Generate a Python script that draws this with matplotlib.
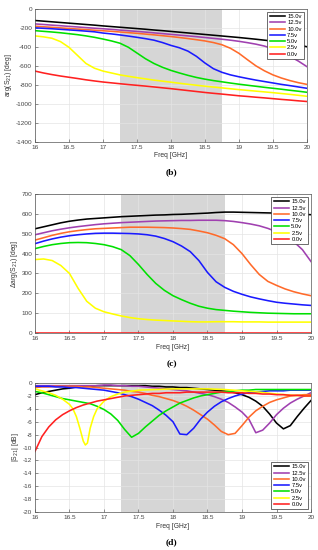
import matplotlib
matplotlib.use("Agg")
import matplotlib.pyplot as plt
import numpy as np

plt.rcParams['font.family'] = ['Liberation Sans', 'DejaVu Sans']
plt.rcParams['axes.unicode_minus'] = False

labels = ['15.0v', '12.5v', '10.0v', '7.5v', '5.0v', '2.5v', '0.0v']
colors = ['#000000', '#a040b0', '#ff6a2a', '#1a1aff', '#00e000', '#ffff00', '#ff2020']

# (b) arg(S21), grid 16..20 step 0.125
freq_bc = np.arange(16, 20.001, 0.125)
b_15 = [-123, -130, -137, -144, -151, -158, -165, -172, -180, -187, -194, -201, -208, -215, -223, -230, -238,
        -246, -254, -262, -270, -278, -286, -294, -302, -311, -320, -330, -340, -352, -365, -380, -399]
b_12 = [-159, -165, -172, -178, -185, -191, -198, -204, -210, -217, -224, -231, -238, -245, -253, -261, -269,
        -277, -285, -293, -302, -311, -320, -330, -342, -356, -372, -392, -420, -455, -500, -550, -608]
b_10 = [-183, -189, -195, -201, -207, -213, -219, -225, -231, -237, -244, -251, -258, -266, -274, -283, -292,
        -302, -313, -325, -338, -355, -378, -415, -468, -535, -600, -652, -695, -728, -755, -777, -795]
b_7 = [-200, -205, -210, -216, -222, -228, -235, -242, -255, -264, -275, -287, -300, -314, -330, -355, -385,
       -410, -445, -500, -570, -630, -668, -695, -715, -733, -750, -765, -780, -795, -808, -822, -836]
b_5 = [-230, -237, -244, -252, -262, -272, -285, -300, -318, -338, -362, -405, -465, -525, -575, -615, -648,
       -675, -700, -722, -740, -755, -768, -781, -793, -804, -815, -826, -836, -846, -857, -867, -878]
b_2 = [-285, -295, -310, -345, -405, -490, -575, -625, -655, -675, -695, -710, -724, -737, -750, -761, -772,
       -783, -794, -804, -814, -823, -832, -841, -850, -858, -866, -874, -882, -891, -900, -910, -920]
b_0 = [-655, -675, -692, -707, -720, -733, -747, -759, -770, -779, -788, -797, -805, -813, -822, -831, -840,
       -850, -860, -870, -880, -889, -897, -906, -915, -922, -930, -937, -945, -953, -960, -968, -975]

# (c) delta arg(S21)
c_15 = [525, 535, 545, 555, 563, 569, 574, 577, 580, 583, 586, 588, 590, 592, 594, 595, 597,
        598, 600, 602, 604, 607, 609, 609, 608, 607, 606, 605, 604, 602, 600, 598, 596]
c_12 = [495, 505, 515, 523, 530, 536, 541, 546, 550, 553, 556, 558, 560, 562, 564, 565, 566,
        567, 567, 568, 568, 568, 566, 562, 556, 549, 540, 527, 510, 488, 460, 420, 360]
c_10 = [468, 480, 492, 502, 510, 516, 521, 525, 527, 529, 531, 533, 533, 533, 532, 531, 529,
        526, 522, 514, 505, 492, 475, 445, 400, 345, 295, 260, 240, 222, 208, 197, 188]
c_7 = [450, 463, 474, 483, 490, 495, 499, 502, 503, 503, 502, 501, 499, 495, 488, 476, 460,
       438, 410, 365, 305, 258, 230, 210, 195, 182, 172, 163, 155, 150, 146, 142, 139]
c_5 = [425, 436, 445, 451, 455, 456, 455, 451, 445, 435, 420, 390, 345, 295, 250, 215, 188,
       168, 150, 135, 125, 118, 114, 110, 107, 104, 102, 100, 99, 98, 97, 97, 97]
c_2 = [370, 373, 365, 340, 300, 225, 160, 125, 107, 96, 86, 78, 72, 68, 65, 63, 61,
       59, 57, 56, 56, 57, 57, 57, 56, 56, 56, 55, 55, 55, 55, 55, 55]
c_0 = [0] * 33

# (d) |S21| dB, grid 16..20 step 0.1
freq_d = np.round(np.arange(16, 20.001, 0.1), 2)
d_15 = [-1.8, -1.5, -1.3, -1.1, -0.9, -0.8, -0.6, -0.5, -0.5, -0.4, -0.4, -0.4, -0.4, -0.4, -0.4, -0.4, -0.4,
        -0.5, -0.5, -0.6, -0.6, -0.7, -0.7, -0.8, -0.9, -1.0, -1.1, -1.2, -1.3, -1.5, -1.8, -2.2, -2.8, -3.6,
        -4.8, -6.2, -7.1, -6.6, -5.2, -3.9, -2.7]
d_12 = [-0.4, -0.4, -0.4, -0.4, -0.4, -0.4, -0.4, -0.4, -0.4, -0.4, -0.3, -0.3, -0.4, -0.4, -0.5, -0.5, -0.6,
        -0.7, -0.8, -0.9, -1.0, -1.1, -1.2, -1.4, -1.6, -1.8, -2.1, -2.5, -3.0, -3.7, -4.5, -5.6, -7.7, -7.3,
        -6.2, -4.9, -3.9, -3.1, -2.5, -2.0, -1.5]
d_10 = [-0.7, -0.6, -0.6, -0.5, -0.5, -0.5, -0.5, -0.6, -0.6, -0.7, -0.8, -0.9, -1.0, -1.1, -1.3, -1.4, -1.6,
        -1.9, -2.1, -2.4, -2.7, -3.1, -3.6, -4.2, -4.9, -5.6, -6.5, -7.5, -8.0, -7.8, -6.6, -5.3, -4.3, -3.6,
        -3.0, -2.6, -2.3, -2.0, -1.9, -1.8, -1.8]
d_7 = [-0.5, -0.5, -0.5, -0.6, -0.6, -0.7, -0.7, -0.8, -0.9, -1.0, -1.1, -1.3, -1.5, -1.8, -2.1, -2.5, -3.0,
       -3.5, -4.2, -5.0, -6.0, -7.9, -8.0, -7.0, -5.6, -4.5, -3.6, -2.9, -2.4, -2.0, -1.7, -1.5, -1.4, -1.3,
       -1.2, -1.2, -1.2, -1.1, -1.1, -1.1, -1.1]
d_5 = [-1.3, -1.5, -1.8, -2.1, -2.4, -2.6, -2.8, -3.0, -3.2, -3.6, -4.1, -4.8, -5.8, -7.2, -8.4, -7.8, -6.8,
       -5.9, -5.0, -4.3, -3.7, -3.1, -2.7, -2.3, -2.0, -1.8, -1.6, -1.4, -1.3, -1.2, -1.1, -1.1, -1.0, -1.0,
       -1.0, -1.0, -1.0, -1.0, -1.0, -1.0, -1.0]
d_0 = [-10.6, -8.3, -6.8, -5.7, -4.9, -4.3, -3.8, -3.4, -3.1, -2.8, -2.6, -2.4, -2.2, -2.0, -1.9, -1.8, -1.7,
       -1.6, -1.6, -1.5, -1.5, -1.5, -1.4, -1.4, -1.4, -1.4, -1.4, -1.4, -1.5, -1.5, -1.5, -1.6, -1.6, -1.7,
       -1.7, -1.8, -1.8, -1.9, -1.9, -2.0, -2.0]
freq_d_2 = [16, 16.1, 16.2, 16.3, 16.4, 16.5, 16.55, 16.6, 16.65, 16.7, 16.73, 16.76, 16.8, 16.85, 16.9, 17,
            17.1, 17.2, 17.3, 17.5, 17.75, 18, 18.25, 18.5, 18.75, 19, 19.25, 19.5, 19.75, 20]
d_2 = [-0.9, -1.2, -1.5, -1.9, -2.5, -3.3, -4.0, -5.2, -7.0, -9.0, -9.6, -9.3, -7.0, -5.2, -4.0, -2.8,
       -2.1, -1.7, -1.4, -1.1, -1.0, -0.9, -0.9, -0.9, -1.0, -1.2, -1.4, -1.7, -1.9, -2.0]

band = (17.25, 18.75)
fs = 4.6

fig = plt.figure(figsize=(3.18, 5.5), dpi=100)


def setup(ax, ylim, yticks, ylabel):
    ax.axvspan(band[0], band[1], color='#d6d6d6', zorder=0, lw=0)
    ax.set_xlim(16, 20)
    ax.set_ylim(*ylim)
    ax.set_xticks(np.arange(16, 20.01, 0.5))
    ax.set_xticklabels(['16', '16.5', '17', '17.5', '18', '18.5', '19', '19.5', '20'])
    ax.set_yticks(yticks)
    ax.grid(True, color='#e4e4e4', lw=0.5, zorder=0.5)
    ax.set_axisbelow(True)
    ax.tick_params(direction='in', labelsize=fs, length=2, width=0.4, colors='#444444', pad=2)
    for s in ax.spines.values():
        s.set_color('#555555')
        s.set_linewidth(0.5)
    ax.set_xlabel('Freq [GHz]', fontsize=fs + 0.3, labelpad=2, color='#333333')
    ax.set_ylabel(ylabel, fontsize=fs + 0.3, labelpad=1, color='#333333')


def legend(ax, loc):
    lg = ax.legend(loc=loc, fontsize=4.2, handlelength=2.6, labelspacing=0.2, borderpad=0.4,
                   fancybox=False, framealpha=1, borderaxespad=0.5, handletextpad=0.4)
    lg.get_frame().set_edgecolor('#333333')
    lg.get_frame().set_linewidth(0.5)


ax1 = fig.add_axes([0.110, 0.742, 0.855, 0.242])
setup(ax1, (-1400, 0), np.arange(-1400, 1, 200), 'arg(S$_{21}$) [deg]')
for y, c, l in zip([b_15, b_12, b_10, b_7, b_5, b_2, b_0], colors, labels):
    ax1.plot(freq_bc, y, color=c, lw=1.15, label=l)
legend(ax1, 'upper right')

ax2 = fig.add_axes([0.110, 0.3945, 0.868, 0.2527])
setup(ax2, (0, 700), np.arange(0, 701, 100), '$\\Delta$arg(S$_{21}$) [deg]')
for y, c, l in zip([c_15, c_12, c_10, c_7, c_5, c_2, c_0], colors, labels):
    ax2.plot(freq_bc, y, color=c, lw=1.15, label=l)
legend(ax2, 'upper right')

ax3 = fig.add_axes([0.110, 0.069, 0.868, 0.2345])
setup(ax3, (-20, 0), np.arange(-20, 1, 2), '|S$_{21}$| [dB]')
for fx, y, c, l in zip([freq_d, freq_d, freq_d, freq_d, freq_d, freq_d_2, freq_d],
                       [d_15, d_12, d_10, d_7, d_5, d_2, d_0], colors, labels):
    ax3.plot(fx, y, color=c, lw=1.15, label=l)
legend(ax3, 'lower right')

for ypos, txt in [(0.687, '(b)'), (0.338, '(c)'), (0.0145, '(d)')]:
    fig.text(0.54, ypos, txt, ha='center', va='center', fontsize=6.8, fontweight='bold',
             family=['Liberation Serif', 'DejaVu Serif'])

fig.savefig('out.png', dpi=100)
